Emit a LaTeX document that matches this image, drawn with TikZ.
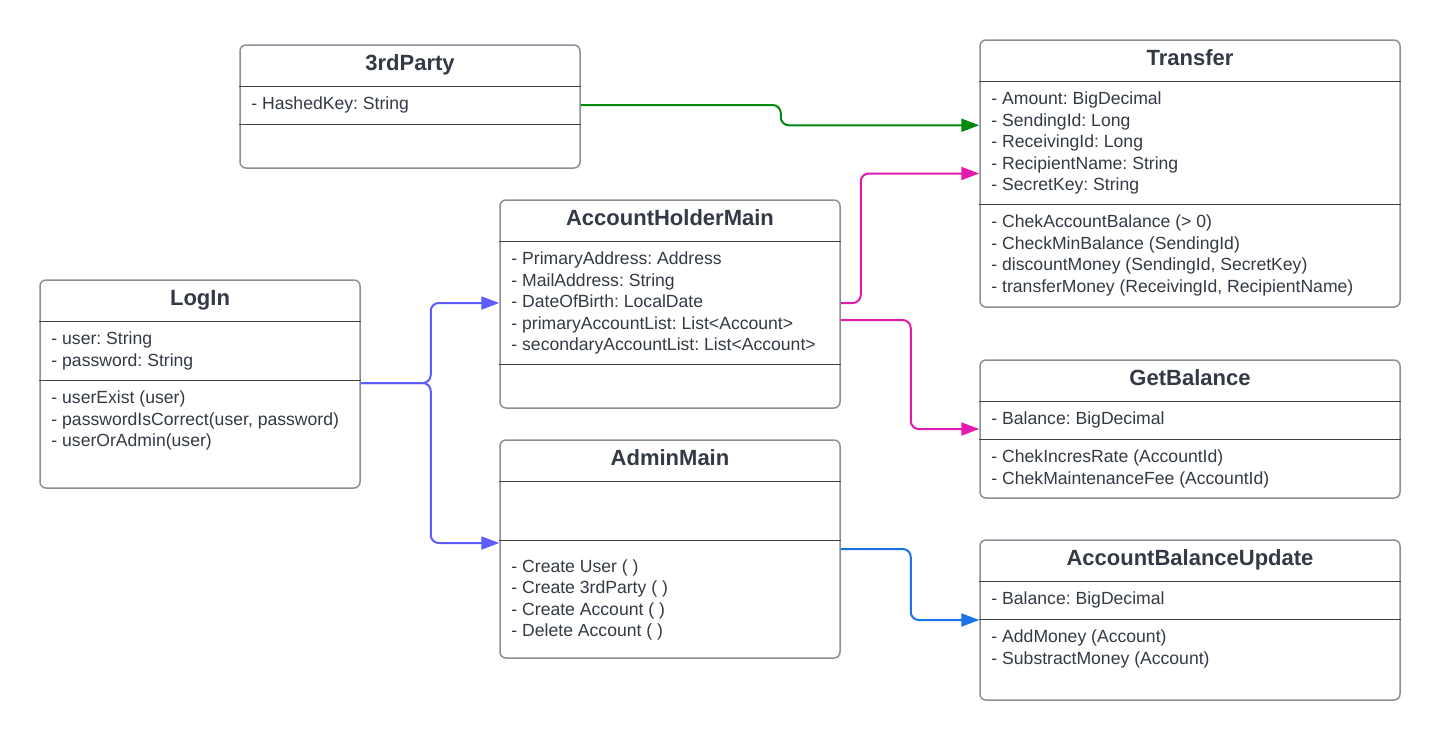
\documentclass[tikz,border=0pt]{standalone}
\usepackage{fontspec}
\setmainfont{Liberation Sans}
\usetikzlibrary{calc,arrows.meta}
\definecolor{umltext}{HTML}{333A45}
\definecolor{umlborder}{HTML}{8A8F98}
\definecolor{umlsep}{HTML}{3C4148}
\definecolor{linkgreen}{HTML}{00890F}
\definecolor{linkpink}{HTML}{E01BAE}
\definecolor{linkblue}{HTML}{1A73E8}
\definecolor{linkviolet}{HTML}{5E5CFF}
\frenchspacing
\begin{document}
\begin{tikzpicture}[x=1pt, y=-1pt,
  classbox/.style={draw=umlborder, line width=1.5pt, rounded corners=6pt, fill=white, inner sep=0pt},
  title/.style={anchor=base, inner sep=0pt, font=\fontsize{22}{26}\selectfont\bfseries, text=umltext},
  members/.style={anchor=north west, inner sep=0pt, align=left, font=\fontsize{17.6}{21.5}\selectfont\frenchspacing, text=umltext},
  sepline/.style={draw=umlsep, line width=1.2pt},
  link/.style={line width=2pt, rounded corners=8pt, -{Triangle[length=18pt,width=13pt]}}]

\useasboundingbox (0,0) rectangle (1440,740);

% LogIn
\node[classbox, minimum width=320pt, minimum height=208pt] (login) at (200,384) {};
\node[title] at ($(login.north)+(0,26)$) {LogIn};
\draw[sepline] ($(login.north west)+(0,42)$) -- ($(login.north east)+(0,42)$);
\draw[sepline] ($(login.north west)+(0,101)$) -- ($(login.north east)+(0,101)$);
\node[members] at ($(login.north west)+(12,52.5)$) {- user: String\\- password: String};
\node[members] at ($(login.north west)+(12,111.5)$) {- userExist (user)\\- passwordIsCorrect(user, password)\\- userOrAdmin(user)};

% 3rdParty
\node[classbox, minimum width=340pt, minimum height=123pt] (third) at (410,106.5) {};
\node[title] at ($(third.north)+(0,26)$) {3rdParty};
\draw[sepline] ($(third.north west)+(0,42)$) -- ($(third.north east)+(0,42)$);
\draw[sepline] ($(third.north west)+(0,80)$) -- ($(third.north east)+(0,80)$);
\node[members] at ($(third.north west)+(12,52.5)$) {- HashedKey: String};

% AccountHolderMain
\node[classbox, minimum width=340pt, minimum height=208pt] (holder) at (670,304) {};
\node[title] at ($(holder.north)+(0,26)$) {AccountHolderMain};
\draw[sepline] ($(holder.north west)+(0,42)$) -- ($(holder.north east)+(0,42)$);
\draw[sepline] ($(holder.north west)+(0,165)$) -- ($(holder.north east)+(0,165)$);
\node[members] at ($(holder.north west)+(12,52.5)$) {- PrimaryAddress: Address\\- MailAddress: String\\- DateOfBirth: LocalDate\\- primaryAccountList: List<Account>\\- secondaryAccountList: List<Account>};

% AdminMain
\node[classbox, minimum width=340pt, minimum height=218pt] (admin) at (670,549) {};
\node[title] at ($(admin.north)+(0,26)$) {AdminMain};
\draw[sepline] ($(admin.north west)+(0,42)$) -- ($(admin.north east)+(0,42)$);
\draw[sepline] ($(admin.north west)+(0,101)$) -- ($(admin.north east)+(0,101)$);
\node[members] at ($(admin.north west)+(12,120)$) {- Create User ( )\\- Create 3rdParty ( )\\- Create Account ( )\\- Delete Account ( )};

% Transfer
\node[classbox, minimum width=420pt, minimum height=267pt] (transfer) at (1190,173.5) {};
\node[title] at ($(transfer.north)+(0,26)$) {Transfer};
\draw[sepline] ($(transfer.north west)+(0,42)$) -- ($(transfer.north east)+(0,42)$);
\draw[sepline] ($(transfer.north west)+(0,165)$) -- ($(transfer.north east)+(0,165)$);
\node[members] at ($(transfer.north west)+(12,52.5)$) {- Amount: BigDecimal\\- SendingId: Long\\- ReceivingId: Long\\- RecipientName: String\\- SecretKey: String};
\node[members] at ($(transfer.north west)+(12,175.5)$) {- ChekAccountBalance (> 0)\\- CheckMinBalance (SendingId)\\- discountMoney (SendingId, SecretKey)\\- transferMoney (ReceivingId, RecipientName)};

% GetBalance
\node[classbox, minimum width=420pt, minimum height=138pt] (getbal) at (1190,429) {};
\node[title] at ($(getbal.north)+(0,26)$) {GetBalance};
\draw[sepline] ($(getbal.north west)+(0,42)$) -- ($(getbal.north east)+(0,42)$);
\draw[sepline] ($(getbal.north west)+(0,80)$) -- ($(getbal.north east)+(0,80)$);
\node[members] at ($(getbal.north west)+(12,52.5)$) {- Balance: BigDecimal};
\node[members] at ($(getbal.north west)+(12,90.5)$) {- ChekIncresRate (AccountId)\\- ChekMaintenanceFee (AccountId)};

% AccountBalanceUpdate
\node[classbox, minimum width=420pt, minimum height=160pt] (update) at (1190,620) {};
\node[title] at ($(update.north)+(0,26)$) {AccountBalanceUpdate};
\draw[sepline] ($(update.north west)+(0,42)$) -- ($(update.north east)+(0,42)$);
\draw[sepline] ($(update.north west)+(0,80)$) -- ($(update.north east)+(0,80)$);
\node[members] at ($(update.north west)+(12,52.5)$) {- Balance: BigDecimal};
\node[members] at ($(update.north west)+(12,90.5)$) {- AddMoney (Account)\\- SubstractMoney (Account)};

% links
\draw[link, linkgreen] ($(third.east)+(0,-1.5)$) -- ++(200,0) |- ($(transfer.north west)+(0,86)$);
\draw[link, linkpink] ($(holder.east)+(0,-1)$) -- ++(20,0) |- (transfer.west);
\draw[link, linkpink] ($(holder.east)+(0,16)$) -- ++(70,0) |- (getbal.west);
\draw[link, linkblue] (admin.east) -- ++(70,0) |- (update.west);
\draw[link, linkviolet] ($(login.east)+(0,-1)$) -- ++(70,0) |- ($(holder.west)+(0,-1)$);
\draw[link, linkviolet] ($(login.east)+(0,-1)$) -- ++(70,0) |- ($(admin.west)+(0,-6)$);
\end{tikzpicture}
\end{document}
